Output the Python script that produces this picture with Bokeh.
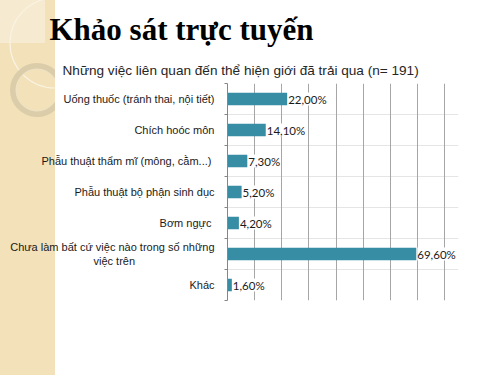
import base64
from bokeh.plotting import figure
from bokeh.models import (Range1d, LinearAxis, FixedTicker, Grid, LabelSet,
                          ColumnDataSource, Title)
from bokeh.core.properties import value
from bokeh.embed import file_html
from bokeh.resources import INLINE

# ---- data ----
NB = "\u00a0"
categories = [
    "Uống thuốc (tránh thai, nội tiết)",
    "Chích hoóc môn",
    "Phẫu thuật thẩm mĩ  (mông, cằm...)",
    "Phẫu thuật bộ phận sinh dục",
    "Bơm  ngực",
    "Chưa làm bất cứ việc nào trong số những\nviệc trên" + NB * 26,
    "Khác",
]
values = [22.0, 14.1, 7.3, 5.2, 4.2, 69.6, 1.6]
value_labels = ["22,00%", "14,10%", "7,30%", "5,20%", "4,20%", "69,60%", "1,60%"]
grid_ticks = [0, 10, 20, 30, 40, 50, 60, 70, 80]
title_text = "Khảo sát trực tuyến"
subtitle_text = "Những việc liên quan đến thể hiện giới đã trải qua (n= 191)"

n = len(categories)
centers = [i + 0.5 for i in range(n)]
bounds = [float(i) for i in range(n + 1)]

source = ColumnDataSource(dict(y=centers, v=values, lab=value_labels))

# ---- decorative background (slide strip) ----
svg = """<svg xmlns='http://www.w3.org/2000/svg' width='500' height='375'>
<defs><clipPath id='c'><rect x='0' y='0' width='55' height='375'/></clipPath></defs>
<rect x='0' y='0' width='55' height='375' fill='#f2e1b9'/>
<g clip-path='url(#c)'>
<rect x='0' y='0' width='45' height='43' fill='#f6ead0'/>
<circle cx='55' cy='43' r='45' fill='none' stroke='#faf3e2' stroke-width='1.2'/>
<circle cx='37' cy='90' r='24' fill='none' stroke='#dbcda9' stroke-width='6'/>
<circle cx='37' cy='90' r='21' fill='none' stroke='#efe4c8' stroke-width='1'/>
</g>
</svg>"""
bg = "url('data:image/svg+xml;base64," + base64.b64encode(svg.encode()).decode() + "')"

p = figure(width=500, height=375, output_backend="svg", toolbar_location=None,
           x_range=Range1d(0, 85.16), y_range=Range1d(n, 0),
           x_axis_location=None, y_axis_location=None, title=None,
           min_border_left=227, min_border_right=42, min_border_top=83,
           min_border_bottom=75,
           styles={"background-image": bg, "background-repeat": "no-repeat"})
p.border_fill_alpha = 0
p.background_fill_color = "white"
p.outline_line_color = None

grid = Grid(dimension=0, ticker=FixedTicker(ticks=grid_ticks),
            grid_line_color="#a6a6a6", grid_line_width=1)
p.add_layout(grid)

p.hbar(y="y", right="v", left=0, height=0.4, source=source,
       fill_color="#378da3", line_color=None)

yaxis = LinearAxis(ticker=FixedTicker(ticks=centers, minor_ticks=bounds),
                   major_label_overrides={c: t for c, t in zip(centers, categories)})
yaxis.axis_line_color = "#868686"
yaxis.major_tick_out = 0
yaxis.major_tick_in = 0
yaxis.minor_tick_out = 3
yaxis.minor_tick_in = 0
yaxis.minor_tick_line_color = "#868686"
yaxis.major_label_standoff = 10
yaxis.major_label_text_font = "Liberation Sans"
yaxis.major_label_text_font_size = "11px"
yaxis.major_label_text_color = "#1a1a1a"
p.add_layout(yaxis, "left")

labels = LabelSet(x="v", y="y", text="lab", source=source, x_offset=1,
                  text_baseline="middle", text_align="left",
                  text_font=value("Lato"), text_font_size="11.5px",
                  text_color="#1a1a1a", background_fill_color="white")
p.add_layout(labels)

p.add_layout(Title(text=subtitle_text, align="left", offset=-165, standoff=11,
                   text_font="Liberation Sans", text_font_style="normal",
                   text_font_size="13.6px", text_color="#262626"), "above")
p.add_layout(Title(text=title_text, align="left", offset=-178, standoff=18,
                   text_font="Liberation Serif", text_font_style="bold",
                   text_font_size="31px", text_color="black"), "above")

open("out.html", "w").write(file_html(p, INLINE))
